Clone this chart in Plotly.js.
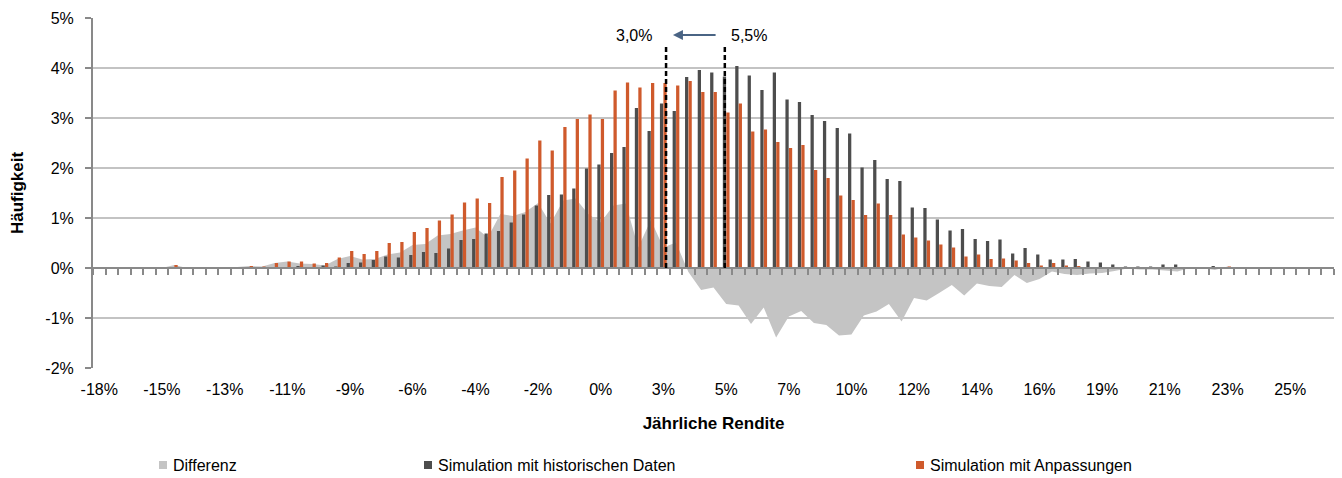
<!DOCTYPE html>
<html><head><meta charset="utf-8">
<script src="https://cdn.plot.ly/plotly-3.0.1.min.js"></script>
<style>html,body{margin:0;padding:0;background:#fff}#chart{width:1342px;height:478px}</style>
</head><body><div id="chart"></div>
<script>
// Jährliche Rendite (bin centres, %)
const returns = [-17.72,-17.27,-16.81,-16.36,-15.90,-15.45,-15.00,-14.54,-14.08,-13.63,
-13.17,-12.72,-12.27,-11.81,-11.36,-10.90,-10.45,-9.99,-9.54,-9.08,
-8.63,-8.18,-7.72,-7.27,-6.81,-6.36,-5.90,-5.45,-4.99,-4.54,
-4.08,-3.63,-3.18,-2.72,-2.27,-1.81,-1.36,-0.90,-0.45,0.01,
0.46,0.92,1.37,1.82,2.28,2.73,3.19,3.64,4.10,4.55,
5.01,5.46,5.91,6.37,6.82,7.28,7.73,8.19,8.64,9.10,
9.55,10.00,10.46,10.91,11.37,11.82,12.28,12.73,13.19,13.64,
14.10,14.55,15.00,15.46,15.91,16.37,16.82,17.28,17.73,18.19,
18.64,19.09,19.55,20.00,20.46,20.91,21.37,21.82,22.28,22.73,
23.19,23.64,24.09,24.55,25.00,25.46,25.91,26.37,26.82];

// Simulation mit historischen Daten (Häufigkeit, %)
const historisch = [0,0,0,0,0,0,0,0,0,0,
0,0,0,0,0,0,0.04,0.01,0.05,0.03,
0.10,0.11,0.16,0.23,0.21,0.26,0.32,0.30,0.39,0.56,
0.58,0.69,0.74,0.91,1.07,1.25,1.46,1.47,1.59,1.99,
2.07,2.30,2.42,3.20,2.74,3.29,3.14,3.82,3.96,3.91,
3.83,4.04,3.85,3.56,3.91,3.37,3.32,3.06,2.94,2.80,
2.69,2.01,2.16,1.78,1.74,1.21,1.20,0.97,0.75,0.78,
0.58,0.54,0.57,0.29,0.40,0.27,0.17,0.17,0.18,0.13,
0.11,0.07,0.03,0.03,0.03,0.07,0.07,0,0,0.04,
0,0,0,0,0,0,0,0,0];

// Simulation mit Anpassungen (Häufigkeit, %)
const anpassungen = [0,0,0,0,0,0,0.06,0,0,0.02,
0,0.02,0.04,0.03,0.10,0.13,0.13,0.09,0.10,0.21,
0.34,0.28,0.34,0.50,0.52,0.72,0.80,0.95,1.07,1.31,
1.39,1.30,1.82,1.95,2.19,2.55,2.35,2.82,2.98,3.07,
2.98,3.55,3.71,3.61,3.70,3.70,3.65,3.74,3.52,3.52,
3.11,3.29,2.73,2.77,2.52,2.40,2.46,1.96,1.80,1.45,
1.36,1.06,1.29,1.06,0.67,0.61,0.55,0.47,0.41,0.23,
0.27,0.18,0.19,0.15,0.10,0.05,0.10,0.05,0.04,0.02,
0.01,0.01,0.02,0,0,0.02,0,0,0,0,
0.03,0,0,0,0,0,0,0,0];

// Differenz (%)
const differenz = [0,0,0,0,0,0,0.06,0,0,0.02,
0,0.02,0.04,0.03,0.10,0.13,0.09,0.08,0.05,0.18,
0.24,0.17,0.18,0.27,0.31,0.46,0.48,0.65,0.68,0.75,
0.81,0.61,1.08,1.04,1.12,1.30,0.89,1.35,1.39,1.08,
0.91,1.25,1.29,0.41,0.96,0.41,0.51,-0.08,-0.44,-0.39,
-0.72,-0.75,-1.12,-0.79,-1.39,-0.97,-0.86,-1.10,-1.14,-1.35,
-1.33,-0.95,-0.87,-0.72,-1.07,-0.60,-0.65,-0.50,-0.34,-0.55,
-0.31,-0.36,-0.38,-0.14,-0.30,-0.22,-0.07,-0.12,-0.14,-0.11,
-0.10,-0.06,-0.01,-0.03,-0.03,-0.05,-0.07,0,0,-0.04,
0.03,0,0,0,0,0,0,0,0];

const tickLabels = ['-18%','-15%','-13%','-11%','-9%','-6%','-4%','-2%','0%','3%',
'5%','7%','10%','12%','14%','16%','19%','21%','23%','25%'];
const tickVals = returns.filter((v, i) => i % 5 === 0);
const yTickVals = [-2,-1,0,1,2,3,4,5];
const yTickLabels = ['-2%','-1%','0%','1%','2%','3%','4%','5%'];

const seriesNames = ['Differenz','Simulation mit historischen Daten','Simulation mit Anpassungen'];
const seriesColors = ['#c4c4c4','#4d4d4d','#cf5a2c'];

const step = (returns[returns.length - 1] - returns[0]) / (returns.length - 1);
const xRange = [returns[0] - step / 2, returns[returns.length - 1] + step / 2];

const FONT = 'Liberation Sans, Arial, sans-serif';
const AXIS = '#898989';

// plot area geometry (px) used for the hand-built legend
const W = 1342, H = 478, ML = 93, MR = 8, MT = 18, MB = 110;
const PW = W - ML - MR, PH = H - MT - MB;
const px2fx = p => (p - ML) / PW;
const py2fy = p => (H - MB - p) / PH;

const traces = [
  {type:'scatter', x: returns, y: differenz, mode:'none', fill:'tozeroy',
   fillcolor:seriesColors[0], name:seriesNames[0], xaxis:'x', yaxis:'y', hoverinfo:'skip'},
  {type:'bar', x: returns, y: historisch, name:seriesNames[1],
   marker:{color:seriesColors[1]}, xaxis:'x2', yaxis:'y2'},
  {type:'bar', x: returns, y: anpassungen, name:seriesNames[2],
   marker:{color:seriesColors[2]}, xaxis:'x2', yaxis:'y2'}
];

// legend (squares + labels) positioned as in the original
const legendX = [159, 424, 916];
const legendY = 465;
const legendShapes = legendX.map((lx, i) => ({
  type:'rect', xref:'paper', yref:'paper', layer:'above',
  x0:px2fx(lx), x1:px2fx(lx + 8), y0:py2fy(legendY + 4), y1:py2fy(legendY - 4),
  fillcolor:seriesColors[i], line:{width:0}
}));
const legendTexts = legendX.map((lx, i) => ({
  xref:'paper', yref:'paper', x:px2fx(lx + 12), y:py2fy(legendY), text:seriesNames[i],
  showarrow:false, xanchor:'left', yanchor:'middle', font:{family:FONT, size:16, color:'#000'}
}));

const layout = {
  width:W, height:H,
  margin:{l:ML, r:MR, t:MT, b:MB},
  paper_bgcolor:'#fff', plot_bgcolor:'#fff',
  font:{family:FONT, size:16, color:'#000'},
  barmode:'group', bargap:0.44, bargroupgap:0.06,
  showlegend:false,
  xaxis:{range:xRange, tickmode:'array', tickvals:tickVals, ticktext:tickLabels, automargin:false,
    ticks:'', showline:false, showgrid:false, zeroline:false, ticklabelstandoff:10,
    tickfont:{family:FONT, size:16, color:'#000'},
    title:{text:'Jährliche Rendite', font:{family:FONT, size:17, weight:'bold', color:'#000'}, standoff:20}},
  xaxis2:{overlaying:'x', anchor:'free', position:2/7, range:xRange, automargin:false,
    tickmode:'linear', tick0:xRange[0], dtick:step, ticks:'outside', ticklen:6, tickwidth:2,
    tickcolor:AXIS, showticklabels:false, showline:true, linecolor:AXIS, linewidth:2,
    showgrid:false, zeroline:false},
  yaxis:{range:[-2,5], tickmode:'array', tickvals:yTickVals, ticktext:yTickLabels, automargin:false,
    showgrid:true, gridcolor:'#c3c3c3', gridwidth:2,
    zeroline:false, showline:true, linecolor:AXIS, linewidth:2, ticks:'outside', ticklen:6,
    tickwidth:2, tickcolor:AXIS, ticklabelstandoff:8,
    tickfont:{family:FONT, size:16, color:'#000'},
    title:{text:'Häufigkeit', font:{family:FONT, size:17, weight:'bold', color:'#000'}, standoff:17}},
  yaxis2:{overlaying:'y', anchor:'x2', range:[-2,5], visible:false},
  shapes:[
    {type:'line', xref:'x', yref:'y', x0:2.83, x1:2.83, y0:0, y1:4.44,
     line:{color:'#000', width:2.5, dash:'5px,3px'}},
    {type:'line', xref:'x', yref:'y', x0:4.96, x1:4.96, y0:0, y1:4.44,
     line:{color:'#000', width:2.5, dash:'5px,3px'}}
  ].concat(legendShapes),
  annotations:[
    {xref:'x', yref:'y', x:2.40, y:4.66, text:'3,0%', showarrow:false, xanchor:'right', yanchor:'middle',
     font:{family:FONT, size:16, color:'#000'}},
    {xref:'x', yref:'y', x:5.11, y:4.66, text:'5,5%', showarrow:false, xanchor:'left', yanchor:'middle',
     font:{family:FONT, size:16, color:'#000'}},
    {xref:'x', yref:'y', x:3.08, y:4.66, axref:'x', ayref:'y', ax:4.68, ay:4.66, text:'',
     showarrow:true, arrowhead:2, arrowsize:1, arrowwidth:2, arrowcolor:'#4a6484'}
  ].concat(legendTexts)
};

Plotly.newPlot('chart', traces, layout, {displayModeBar:false, staticPlot:true});
</script>
</body></html>
